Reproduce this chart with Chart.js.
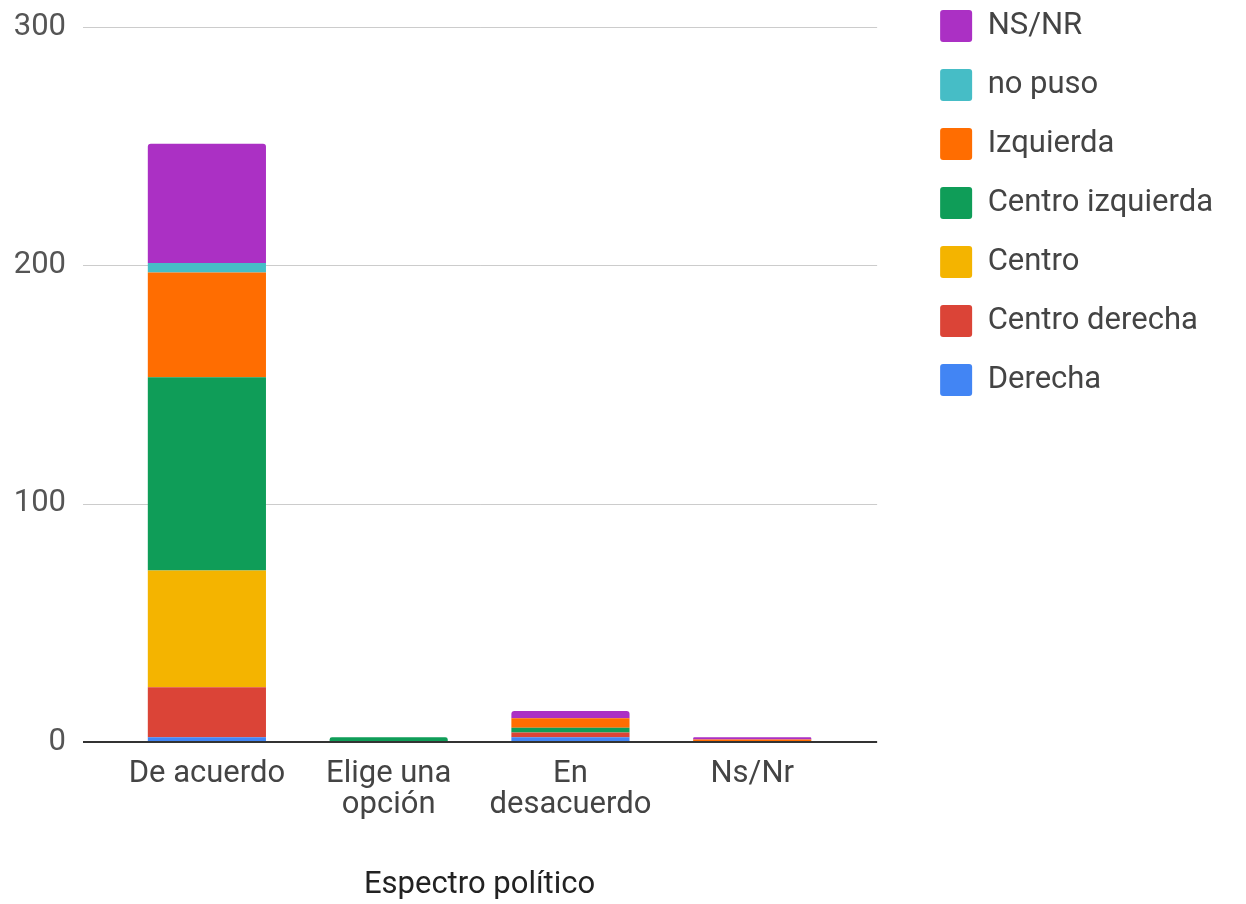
<!DOCTYPE html>
<html>
<head>
<meta charset="utf-8">
<script src="https://cdn.jsdelivr.net/npm/chart.js@4/dist/chart.umd.min.js"></script>
<style>
  html, body { margin: 0; padding: 0; background: #fff; }
  #wrap { width: 1246px; height: 904px; }
</style>
</head>
<body>
<div id="wrap"><canvas id="myChart" width="1246" height="904"></canvas></div>
<script>
// categories on the x axis
let categories = ['De acuerdo', ['Elige una', 'opción'], ['En', 'desacuerdo'], 'Ns/Nr'];

// series values, one per category
let derecha = [2, 0, 2, 0];
let centroDerecha = [21, 0, 2, 0];
let centro = [49, 0, 0, 0];
let centroIzquierda = [81, 2, 2, 0];
let izquierda = [44, 0, 4, 1];
let noPuso = [4, 0, 0, 0];
let nsnr = [50, 0, 3, 1];

let yTicks = [0, 100, 200, 300];

let seriesNames = ['Derecha', 'Centro derecha', 'Centro', 'Centro izquierda', 'Izquierda', 'no puso', 'NS/NR'];
let seriesData = [derecha, centroDerecha, centro, centroIzquierda, izquierda, noPuso, nsnr];
let seriesColors = ['#4285f4', '#db4437', '#f4b400', '#0f9d58', '#ff6d01', '#46bdc6', '#ab30c4'];

Chart.defaults.font.family = 'Roboto, "Noto Sans", sans-serif';

// grid lines run a bit wider than the bars area, like the original
let gridPlugin = {
  id: 'wideGrid',
  beforeDatasetsDraw(chart) {
    let ctx = chart.ctx;
    let y = chart.scales.y;
    let area = chart.chartArea;
    ctx.save();
    ctx.strokeStyle = '#cccccc';
    ctx.lineWidth = 1;
    yTicks.forEach(v => {
      if (v === 0) return;
      let py = Math.round(y.getPixelForValue(v)) + 0.5;
      ctx.beginPath();
      ctx.moveTo(area.left - 33, py);
      ctx.lineTo(area.right + 34, py);
      ctx.stroke();
    });
    ctx.restore();
  },
  afterDatasetsDraw(chart) {
    // dark baseline at zero
    let ctx = chart.ctx;
    let y = chart.scales.y;
    let area = chart.chartArea;
    let py = y.getPixelForValue(0);
    ctx.save();
    ctx.strokeStyle = '#333333';
    ctx.lineWidth = 2;
    ctx.beginPath();
    ctx.moveTo(area.left - 33, py);
    ctx.lineTo(area.right + 34, py);
    ctx.stroke();
    ctx.restore();
  },
  afterLayout(chart) {
    // pull legend up to the top edge
    chart.legend.top -= 17;
    chart.legend.bottom -= 17;
  }
};

let ctx = document.getElementById('myChart').getContext('2d');
let myChart = new Chart(ctx, {
  type: 'bar',
  data: {
    labels: categories,
    datasets: seriesNames.map((name, i) => ({
      label: name,
      data: seriesData[i],
      backgroundColor: seriesColors[i],
      borderWidth: 0,
      borderRadius: 3,
      barPercentage: 0.65,
      categoryPercentage: 1
    }))
  },
  options: {
    responsive: false,
    animation: false,
    layout: { padding: { top: 0, right: 23, bottom: 0, left: 0 } },
    plugins: {
      legend: {
        position: 'right',
        align: 'start',
        reverse: true,
        maxWidth: 400,
        labels: {
          boxWidth: 32,
          boxHeight: 32,
          padding: 27,
          color: '#444444',
          useBorderRadius: true,
          borderRadius: 3,
          font: { size: 31 }
        }
      },
      tooltip: { enabled: false }
    },
    scales: {
      x: {
        stacked: true,
        grid: { display: false },
        border: { display: false },
        ticks: { color: '#444444', padding: 9, maxRotation: 0, font: { size: 31, lineHeight: 1 } },
        title: { display: true, text: 'Espectro político', color: '#222222', padding: { top: 0, bottom: 0 }, font: { size: 31 } },
        afterFit: scale => { scale.height = 162; }
      },
      y: {
        stacked: true,
        min: 0,
        max: 300,
        grid: { display: false },
        border: { display: false },
        ticks: { stepSize: 100, color: '#555555', padding: 42, font: { size: 31 } },
        afterFit: scale => {
          scale.width = 116;
          scale.paddingTop = 27;
          scale.paddingBottom = 0;
        }
      },
      y2: {
        position: 'right',
        grid: { display: false },
        border: { display: false },
        ticks: { display: false },
        afterFit: scale => { scale.width = 70; }
      }
    }
  },
  plugins: [gridPlugin]
});
</script>
</body>
</html>
